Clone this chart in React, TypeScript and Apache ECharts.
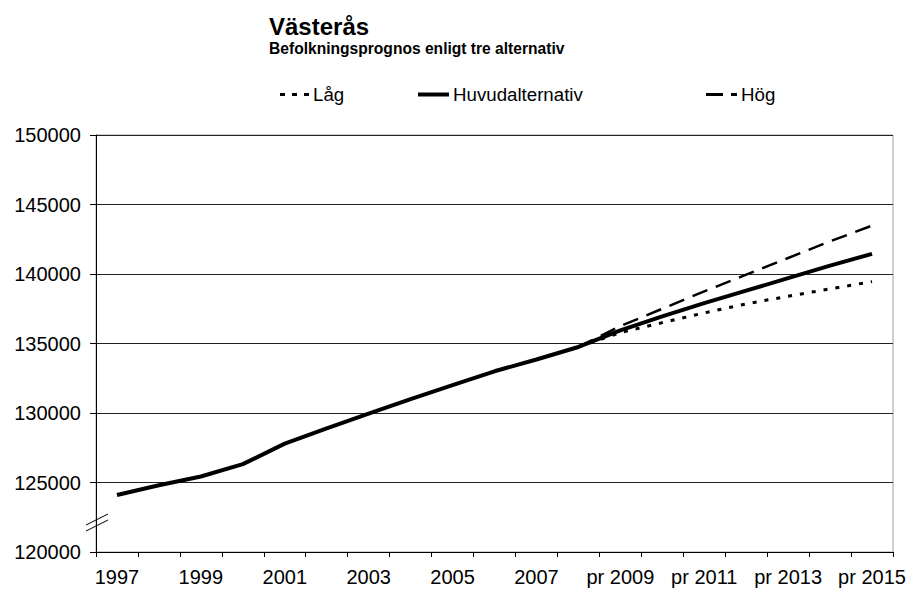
import React, { useEffect, useRef } from "react";
import * as echarts from "echarts";

const years = [
  "1997", "1998", "1999", "2000", "2001", "2002", "2003", "2004", "2005", "2006",
  "2007", "2008", "pr 2009", "pr 2010", "pr 2011", "pr 2012", "pr 2013", "pr 2014", "pr 2015",
];

const huvud = [
  124100, 124800, 125430, 126320, 127800, 128900, 129950, 131000, 132000, 133000,
  133850, 134750, 135950, 136950, 137900, 138800, 139700, 140600, 141450,
];

const lag = [
  null, null, null, null, null, null, null, null, null, null,
  null, 134750, 135780, 136500, 137200, 137850, 138400, 138930, 139450,
];

const hog = [
  null, null, null, null, null, null, null, null, null, null,
  null, 134750, 136250, 137500, 138750, 139950, 141150, 142350, 143480,
];

const yMin = 120000;
const yMax = 150000;
const yStep = 5000;

const FONT = "'Liberation Sans', Arial, sans-serif";

export default function App() {
  const ref = useRef<HTMLDivElement>(null);

  useEffect(() => {
    if (!ref.current) return;
    const chart = echarts.init(ref.current, null, { renderer: "svg" });
    const legendText = { fontSize: 18.7, color: "#000", fontFamily: FONT, padding: [0, 0, 0, -1] };
    chart.setOption({
      animation: false,
      backgroundColor: "#fff",
      textStyle: { fontFamily: FONT, color: "#000" },
      title: [
        {
          text: "Västerås",
          left: 264,
          top: 9,
          textStyle: { fontSize: 24, fontWeight: "bold", color: "#000", fontFamily: FONT },
        },
        {
          text: "Befolkningsprognos enligt tre alternativ",
          left: 264,
          top: 35,
          textStyle: { fontSize: 15.6, fontWeight: "bold", color: "#000", fontFamily: FONT },
        },
      ],
      legend: [
        {
          data: [{ name: "Låg", icon: "path://M0,0h5v3h-5z M12,0h5v3h-5z M24,0h5v3h-5z" }],
          left: 275,
          top: 80,
          itemWidth: 29,
          itemHeight: 3,
          itemGap: 4,
          textStyle: legendText,
        },
        {
          data: [{ name: "Huvudalternativ", icon: "rect" }],
          left: 413,
          top: 80,
          itemWidth: 31,
          itemHeight: 4,
          textStyle: legendText,
        },
        {
          data: [{ name: "Hög", icon: "path://M0,0h17v3h-17z M25,0h6v3h-6z" }],
          left: 701,
          top: 80,
          itemWidth: 31,
          itemHeight: 3,
          textStyle: legendText,
        },
      ],
      grid: {
        left: 96,
        right: 17,
        top: 135,
        bottom: 39,
        show: true,
        borderColor: "#a0a0a0",
        borderWidth: 1,
        backgroundColor: "transparent",
      },
      xAxis: {
        type: "category",
        data: years,
        boundaryGap: true,
        axisLine: { show: true, lineStyle: { color: "#000", width: 1 } },
        axisTick: { show: true, interval: 0, length: 5, lineStyle: { color: "#000" } },
        axisLabel: {
          interval: 1,
          fontSize: 20,
          color: "#000",
          margin: 15,
          fontFamily: FONT,
        },
        splitLine: { show: false },
      },
      yAxis: {
        type: "value",
        min: yMin,
        max: yMax,
        interval: yStep,
        axisLine: { show: true, lineStyle: { color: "#000", width: 1 } },
        axisTick: { show: true, length: 6, lineStyle: { color: "#000" } },
        axisLabel: {
          fontSize: 20,
          color: "#000",
          margin: 15,
          fontFamily: FONT,
          formatter: (v: number) => String(v),
        },
        splitLine: { show: true, lineStyle: { color: "#222", width: 1 } },
      },
      series: [
        {
          name: "Låg",
          type: "line",
          data: lag,
          symbol: "none",
          connectNulls: false,
          lineStyle: { color: "#000", width: 3, type: [4, 8] },
          itemStyle: { color: "#000" },
          z: 3,
        },
        {
          name: "Huvudalternativ",
          type: "line",
          data: huvud,
          symbol: "none",
          lineStyle: { color: "#000", width: 4, type: "solid" },
          itemStyle: { color: "#000" },
          z: 2,
        },
        {
          name: "Hög",
          type: "line",
          data: hog,
          symbol: "none",
          lineStyle: { color: "#000", width: 2.5, type: [16, 9] },
          itemStyle: { color: "#000" },
          z: 3,
        },
      ],
      graphic: [
        {
          type: "line",
          shape: { x1: 86, y1: 531, x2: 108, y2: 520 },
          style: { stroke: "#000", lineWidth: 1 },
          z: 10,
        },
        {
          type: "line",
          shape: { x1: 86, y1: 525, x2: 108, y2: 514 },
          style: { stroke: "#000", lineWidth: 1 },
          z: 10,
        },
      ],
    });
    return () => chart.dispose();
  }, []);

  return <div ref={ref} style={{ width: 910, height: 591, position: "absolute", left: 0, top: 0 }} />;
}
